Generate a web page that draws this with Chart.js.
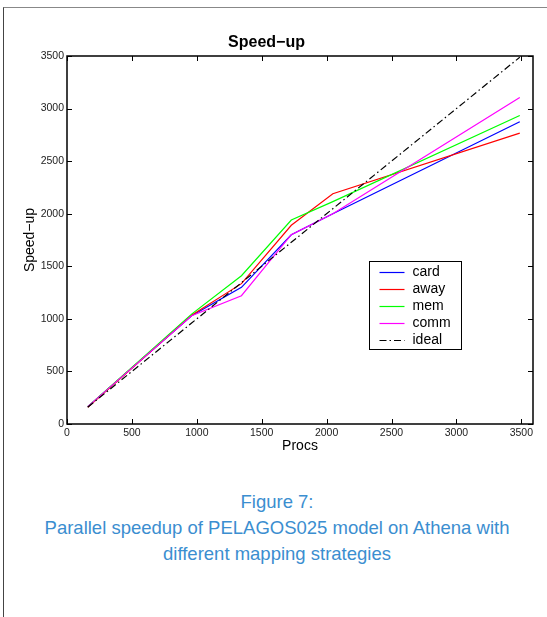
<!DOCTYPE html>
<html>
<head>
<meta charset="utf-8">
<script src="https://cdn.jsdelivr.net/npm/chart.js@4.4.0/dist/chart.umd.min.js"></script>
<style>
  body { margin: 0; background: #fff; width: 547px; height: 617px; overflow: hidden; position: relative; font-family: "Liberation Sans", Arial, sans-serif; }
  #frame { position: absolute; left: 3px; top: 7px; right: 0; bottom: 0; border-top: 1px solid #888; border-left: 1px solid #444; }
  #myChart { position: absolute; left: 0; top: 0; }
  #caption { position: absolute; left: 0; top: 489px; width: 554px; text-align: center; color: #3b8ed0; font-size: 18.5px; line-height: 26px; }
</style>
</head>
<body>
<div id="frame"></div>
<canvas id="myChart" width="547" height="470"></canvas>
<div id="caption">Figure 7:<br>Parallel speedup of PELAGOS025 model on Athena with<br>different mapping strategies</div>
<script>
// number of processors on the x axis
const procs = [160, 960, 1344, 1728, 2048, 3488];

// speed-up per mapping strategy
const card = [165, 1030, 1300, 1800, 2000, 2874];
const away = [160, 1035, 1335, 1890, 2190, 2767];
const mem = [165, 1045, 1410, 1940, 2115, 2934];
const comm = [165, 1030, 1220, 1800, 2000, 3105];
const ideal = [160, 960, 1344, 1728, 2048, 3488];

// tick labels
const xTicks = [0, 500, 1000, 1500, 2000, 2500, 3000, 3500];
const yTicks = [0, 500, 1000, 1500, 2000, 2500, 3000, 3500];

const seriesNames = ['card', 'away', 'mem', 'comm', 'ideal'];
const seriesColors = ['#0000ff', '#ff0000', '#00ff00', '#ff00ff', '#000000'];
const idealDash = [7, 3, 1.5, 3];

function toPoints(ys) {
    return procs.map((p, i) => ({ x: p, y: ys[i] }));
}

Chart.defaults.font.family = '"Liberation Sans", Arial, sans-serif';
Chart.defaults.color = '#222';

// box round the plot, inward ticks and the legend inside the plot
const matlabBox = {
    id: 'matlabBox',
    afterDraw(chart) {
        const ctx = chart.ctx;
        const a = chart.chartArea;
        const xs = chart.scales.x;
        const ys = chart.scales.y;
        ctx.save();
        ctx.strokeStyle = '#000';
        ctx.lineWidth = 1;
        xs.ticks.forEach((t) => {
            const px = Math.round(xs.getPixelForValue(t.value)) + 0.5;
            ctx.beginPath();
            ctx.moveTo(px, a.bottom); ctx.lineTo(px, a.bottom - 5);
            ctx.moveTo(px, a.top); ctx.lineTo(px, a.top + 5);
            ctx.stroke();
        });
        ys.ticks.forEach((t) => {
            const py = Math.round(ys.getPixelForValue(t.value)) + 0.5;
            ctx.beginPath();
            ctx.moveTo(a.left, py); ctx.lineTo(a.left + 5, py);
            ctx.moveTo(a.right, py); ctx.lineTo(a.right - 5, py);
            ctx.stroke();
        });
        ctx.lineWidth = 1.5;
        ctx.strokeRect(a.left, a.top, a.right - a.left, a.bottom - a.top);

        // legend
        const lx = 369.5, ly = 261.5, lw = 92, lh = 88;
        ctx.fillStyle = '#fff';
        ctx.fillRect(lx, ly, lw, lh);
        ctx.lineWidth = 1;
        ctx.strokeStyle = '#000';
        ctx.strokeRect(lx, ly, lw, lh);
        ctx.font = '14px "Liberation Sans", Arial, sans-serif';
        ctx.textBaseline = 'middle';
        ctx.textAlign = 'left';
        chart.data.datasets.forEach((ds, i) => {
            const y = ly + 11 + i * 17;
            ctx.beginPath();
            ctx.lineWidth = 1.2;
            ctx.strokeStyle = ds.borderColor;
            ctx.setLineDash(ds.borderDash || []);
            ctx.moveTo(lx + 10, y);
            ctx.lineTo(lx + 35, y);
            ctx.stroke();
            ctx.setLineDash([]);
            ctx.fillStyle = '#000';
            ctx.fillText(ds.label, lx + 43, y);
        });
        ctx.restore();
    }
};

const ctx = document.getElementById('myChart');
const allSeries = [card, away, mem, comm, ideal];

new Chart(ctx, {
    type: 'line',
    data: {
        datasets: allSeries.map((s, i) => ({
            label: seriesNames[i],
            data: toPoints(s),
            borderColor: seriesColors[i],
            borderWidth: 1.2,
            borderDash: seriesNames[i] === 'ideal' ? idealDash : [],
            pointRadius: 0,
            tension: 0,
            fill: false,
            order: 5 - i
        }))
    },
    options: {
        responsive: false,
        animation: false,
        devicePixelRatio: 1,
        layout: { padding: { left: 0, right: 14, top: 0, bottom: 0 } },
        plugins: {
            legend: { display: false },
            tooltip: { enabled: false },
            title: {
                display: true,
                text: 'Speed\u2212up',
                color: '#000',
                font: { size: 16, weight: 'bold', lineHeight: 1 },
                padding: { top: 35, bottom: 5 }
            }
        },
        scales: {
            x: {
                type: 'linear',
                min: 0,
                max: 3590,
                grid: { display: false, drawTicks: false },
                border: { display: false },
                ticks: { padding: 3, maxRotation: 0, autoSkip: false, font: { size: 10.5 }, callback: (v) => String(v) },
                afterBuildTicks: (scale) => { scale.ticks = xTicks.map((v) => ({ value: v })); },
                title: { display: true, text: 'Procs', color: '#000', font: { size: 14 }, padding: { top: 0, bottom: 15 } },
                afterFit: (scale) => { scale.height = 46; }
            },
            y: {
                min: 0,
                max: 3500,
                grid: { display: false, drawTicks: false },
                border: { display: false },
                ticks: { padding: 3, autoSkip: false, font: { size: 10.5 }, callback: (v) => String(v) },
                afterBuildTicks: (scale) => { scale.ticks = yTicks.map((v) => ({ value: v })); },
                title: { display: true, text: 'Speed\u2212up', color: '#000', font: { size: 14 }, padding: { top: 22, bottom: 0 } },
                afterFit: (scale) => { scale.width = 67; }
            }
        }
    },
    plugins: [matlabBox]
});
</script>
</body>
</html>
